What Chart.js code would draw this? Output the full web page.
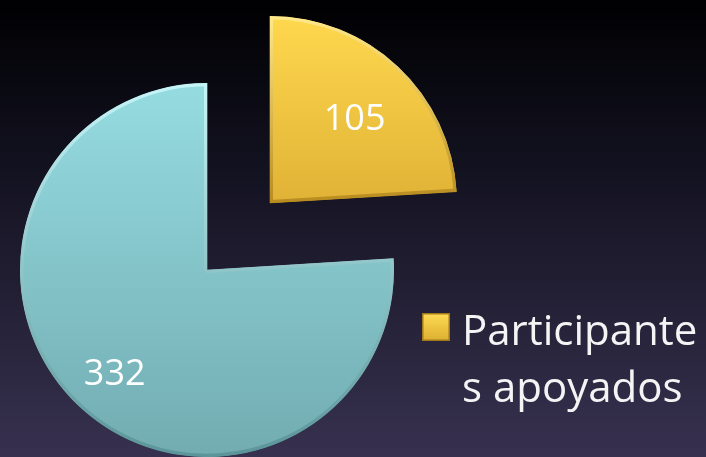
<!DOCTYPE html>
<html><head><meta charset="utf-8">
<script src="https://cdn.jsdelivr.net/npm/chart.js@4.4.1/dist/chart.umd.min.js"></script>
<style>html,body{margin:0;padding:0;background:#000;} #wrap{width:706px;height:457px;position:relative;}</style>
</head><body><div id="wrap"><canvas id="c"></canvas></div>
<script>
// ---- data ----
const categories = ['Participantes apoyados', ''];
const values = [105, 332];
const valueLabels = ['105', '332'];

// ---- styles ----
const R = 187;
const fillStops = [['#ffd84e', '#e0b236'], ['#95dce1', '#72acb1']];
const edgeStops = [['#ffe98a', '#b88b1e'], ['#c6f5f8', '#5b9599']];

function grad(ctx, i, stops) {
  const chart = ctx.chart, a = chart.chartArea;
  if (!a) return stops[i][0];
  const cy = (a.top + a.bottom) / 2;
  const y1 = i === 0 ? cy : cy + R;
  const g = chart.ctx.createLinearGradient(0, cy - R, 0, y1);
  g.addColorStop(0, stops[i][0]);
  g.addColorStop(1, stops[i][1]);
  return g;
}

const bgPlugin = {
  id: 'bg',
  beforeDraw(chart) {
    const c = chart.ctx, w = chart.width, h = chart.height;
    const g = c.createLinearGradient(0, 0, 0, h);
    g.addColorStop(0, '#000002');
    g.addColorStop(0.35, '#12111f');
    g.addColorStop(1, '#37314f');
    c.save(); c.fillStyle = g; c.fillRect(0, 0, w, h); c.restore();
  }
};

const labelPlugin = {
  id: 'sliceLabels',
  afterDatasetsDraw(chart, args, opts) {
    const meta = chart.getDatasetMeta(0);
    const c = chart.ctx;
    c.save();
    c.font = '36px "Open Sans"';
    c.fillStyle = '#ffffff';
    c.textAlign = 'center';
    c.textBaseline = 'middle';
    meta.data.forEach((arc, i) => {
      const p = arc.getProps(['x', 'y', 'startAngle', 'endAngle', 'outerRadius']);
      const mid = (p.startAngle + p.endAngle) / 2;
      const off = (arc.options.offset || 0) / 4;
      const r = p.outerRadius * opts.radial[i];
      c.fillText(valueLabels[i], p.x + Math.cos(mid) * (off + r), p.y + Math.sin(mid) * (off + r) + opts.dy);
    });
    c.restore();
  }
};

function wrapText(c, text, maxW) {
  const lines = [];
  let cur = '';
  for (const ch of text) {
    const test = cur + ch;
    if (c.measureText(test).width > maxW && cur.length) {
      lines.push(cur);
      cur = ch === ' ' ? '' : ch;
    } else cur = test;
  }
  if (cur) lines.push(cur);
  return lines;
}

const legendPlugin = {
  id: 'sideLegend',
  afterDraw(chart, args, opts) {
    const c = chart.ctx;
    c.save();
    c.font = opts.font;
    categories.forEach((lab, i) => {
      if (!lab) return;
      const bx = opts.x, by = opts.y, s = opts.box;
      const g = c.createLinearGradient(bx, by, bx, by + s);
      g.addColorStop(0, '#ffdc55'); g.addColorStop(1, '#dcae30');
      c.fillStyle = g;
      c.fillRect(bx, by, s, s);
      c.strokeStyle = '#a07a18'; c.lineWidth = 1.5;
      c.strokeRect(bx + 0.75, by + 0.75, s - 1.5, s - 1.5);
      c.fillStyle = '#f4f4f4';
      c.textAlign = 'left';
      c.textBaseline = 'alphabetic';
      const lines = wrapText(c, lab, chart.width - opts.textX - 2);
      lines.forEach((ln, k) => c.fillText(ln, opts.textX, opts.baseline + k * opts.lineH));
    });
    c.restore();
  }
};

new Chart(document.getElementById('c'), {
  type: 'pie',
  data: {
    labels: categories,
    datasets: [{
      data: values,
      offset: [368, 0],
      backgroundColor: (ctx) => grad(ctx, ctx.dataIndex, fillStops),
      borderColor: (ctx) => grad(ctx, ctx.dataIndex, edgeStops),
      borderWidth: 3,
      borderAlign: 'inner',
      clip: false
    }]
  },
  options: {
    responsive: true,
    maintainAspectRatio: false,
    animation: false,
    radius: R,
    layout: { padding: { left: 0, right: 292, top: 83, bottom: 0 } },
    events: [],
    plugins: {
      legend: { display: false },
      tooltip: { enabled: false },
      sliceLabels: { radial: [0.66, 0.72], dy: 7 },
      sideLegend: { x: 422, y: 313, box: 28, textX: 462, baseline: 345, lineH: 57, font: '42px "Open Sans"' }
    }
  },
  plugins: [bgPlugin, labelPlugin, legendPlugin]
});
</script></body></html>
